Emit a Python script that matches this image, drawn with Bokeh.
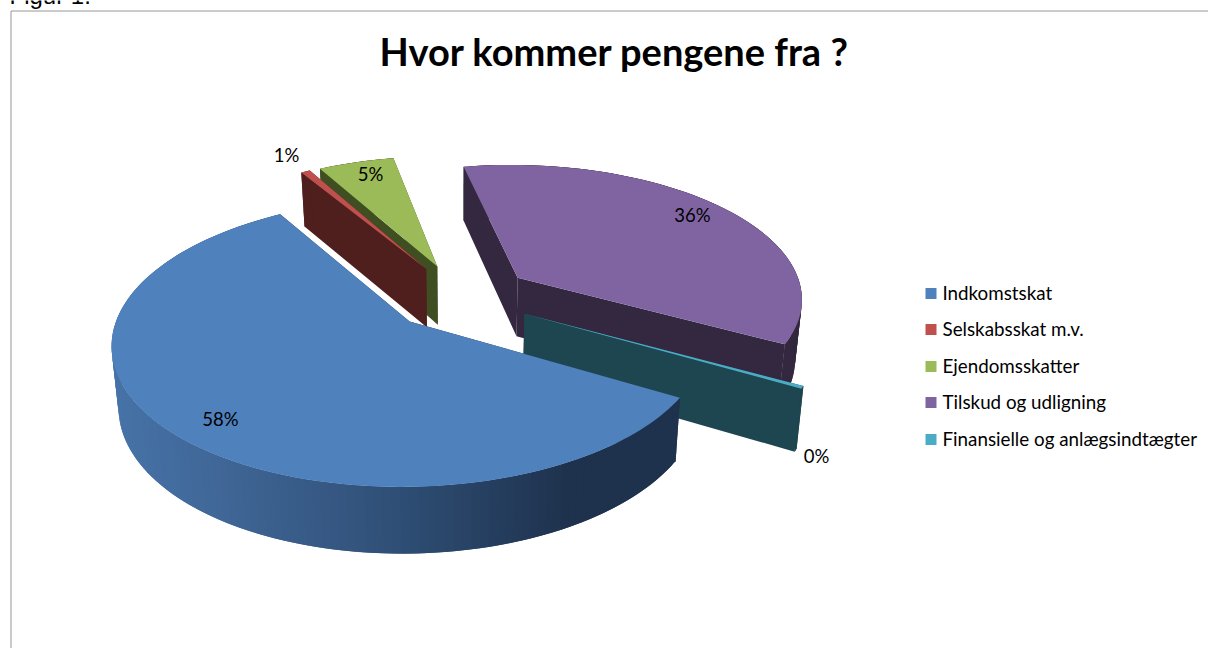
import math
from bokeh.plotting import figure
from bokeh.models import Range1d, ColumnDataSource
from bokeh.core.properties import value
from bokeh.embed import file_html
from bokeh.resources import INLINE

title = "Hvor kommer pengene fra ?"
caption = "Figur 1."
categories = ["Indkomstskat", "Selskabsskat m.v.", "Ejendomsskatter", "Tilskud og udligning", "Finansielle og anlægsindtægter"]
shares = [58, 0.6, 5, 36.1, 0.3]
pct_labels = ["58%", "1%", "5%", "36%", "0%"]

top_colors = ["#4f81bd", "#c0504d", "#9bbb59", "#8064a2", "#4bacc6"]
wall_colors = ["#1e324d", "#4f1f1d", "#3f4f22", "#33283f", "#1e4650"]
label_xy = [(220, 418), (286, 154), (370, 173), (692, 214), (816, 455)]
legend_y = [293, 329, 366, 402, 439]

# projection parameters
D, H, Y0, A, X0 = 7.0, 938.0, 296.5, 2003.0, 460.5
Z, DZ, K = 642.0, 10.8, 0.98
E_U, E_V = 0.25, 0.25
START = 120.0


def top(u, v):
    s = 1.0 / (D - v)
    return X0 + A * u * s, Y0 + H * v * s


def bottom(u, v):
    x, y = top(u, v)
    return X0 + (x - X0) * K, y + Z / (DZ - v)


def lerp_hex(a, b, t):
    ca = [int(a[i:i + 2], 16) for i in (1, 3, 5)]
    cb = [int(b[i:i + 2], 16) for i in (1, 3, 5)]
    return "#%02x%02x%02x" % tuple(round(p + (q - p) * t) for p, q in zip(ca, cb))


def blue_wall(x):
    stops = [(113, "#4773a8"), (230, "#3f6696"), (400, "#2f4f76"), (570, "#1e324d"), (700, "#1e324d")]
    for (x0, c0), (x1, c1) in zip(stops, stops[1:]):
        if x <= x1:
            return lerp_hex(c0, c1, max(0, (x - x0) / (x1 - x0)))
    return stops[-1][1]


total = sum(shares)
angles = []
a = START
for s in shares:
    b = a + s / total * 360
    angles.append((a, b))
    a = b

xs, ys, cols = [], [], []


def add(poly, col):
    xs.append([q[0] for q in poly])
    ys.append([q[1] for q in poly])
    cols.append(col)


for i in [3, 2, 1, 4, 0]:
    a0, a1 = angles[i]
    mid = math.radians((a0 + a1) / 2)
    au, av = E_U * math.sin(mid), -E_V * math.cos(mid)
    n = max(2, int((a1 - a0) / 1.5))
    arc = []
    for j in range(n + 1):
        t = math.radians(a0 + (a1 - a0) * j / n)
        arc.append((au + math.sin(t), av - math.cos(t)))
    wall = wall_colors[i]
    add([top(au, av), top(*arc[0]), bottom(*arc[0]), bottom(au, av)], wall)
    add([top(au, av), top(*arc[-1]), bottom(*arc[-1]), bottom(au, av)], wall)
    # Painted from the last quad to the first, each one reaching over its neighbour, so no seams show.
    for j in range(n - 1, -1, -1):
        p0, p1 = arc[j], arc[min(j + 2, n)]
        poly = [top(*p0), top(*p1), bottom(*p1), bottom(*p0)]
        col = blue_wall(sum(q[0] for q in poly) / 4) if i == 0 else wall
        add(poly, col)
    add([top(au, av)] + [top(*q) for q in arc], top_colors[i])

p = figure(width=1208, height=648, x_range=Range1d(0, 1208), y_range=Range1d(648, 0),
           toolbar_location=None, output_backend="svg", min_border=0)
p.axis.visible = False
p.grid.visible = False
p.outline_line_color = None

p.line([10.5, 10.5, 1208], [648, 10.5, 10.5], line_color="#969696", line_width=1)
p.patches("xs", "ys", fill_color="c", line_color=None, source=ColumnDataSource(dict(xs=xs, ys=ys, c=cols)))

p.text([9], [-5], text=[caption], text_font=value("Liberation Sans"), text_font_size="24px",
       text_align="left", text_baseline="alphabetic", text_color="#000000")
p.text([614], [50], text=[title], text_font=value("Lato"), text_font_style="bold", text_font_size="38px",
       text_align="center", text_baseline="middle", text_color="#000000")
p.text([q[0] for q in label_xy], [q[1] for q in label_xy], text=pct_labels, text_font=value("Lato"),
       text_font_size="18.5px", text_align="center", text_baseline="middle", text_color="#000000")
p.rect([930.5] * 5, legend_y, width=11, height=11, fill_color=top_colors, line_color=None)
p.text([942] * 5, [y - 1.5 for y in legend_y], text=categories, text_font=value("Lato"), text_font_size="18.8px",
       text_align="left", text_baseline="middle", text_color="#000000")

open("out.html", "w").write(file_html(p, INLINE))
